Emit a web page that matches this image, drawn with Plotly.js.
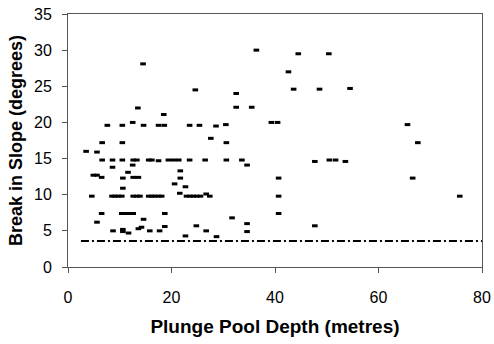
<!DOCTYPE html>
<html>
<head>
<meta charset="utf-8">
<script src="https://cdn.plot.ly/plotly-3.0.1.min.js"></script>
<style>html,body{margin:0;padding:0;background:#fff;}#chart{width:494px;height:344px;}</style>
</head>
<body>
<div id="chart"></div>
<script>
// Plunge pool depth (m) and break in slope (degrees)
var depth = [7.6,10.5,12.5,14.6,13.5,14.5,17.5,18.6,18.5,23.5,24.6,25.4,36.4,44.5,50.4,42.6,32.5,43.6,48.6,32.5,35.5,28.6,30.5,39.3,40.5,27.6,3.5,5.6,6.6,10.5,
  6.6,8.6,10.5,12.6,13.3,15.6,16.2,17.5,19.4,20.4,21.4,23.5,26.5,30.6,33.6,
  8.6,12.5,11.6,4.9,5.6,6.5,10.6,12.6,13.6,10.6,21.7,20.6,22.7,21.6,21.7,
  4.6,8.5,9.1,9.7,10.4,12.6,13.3,13.9,15.6,16.2,16.8,17.5,18.1,22.9,23.6,24.2,24.9,25.6,26.7,27.4,40.7,
  6.5,10.4,11.1,11.7,12.6,18.7,40.7,5.6,14.6,8.7,10.6,10.6,11.7,13.6,14.2,15.8,17.7,18.7,22.7,24.8,
  30.6,34.6,40.7,31.7,26.7,28.7,34.6,34.6,47.7,50.5,51.7,53.6,47.7,54.5,65.6,67.6,66.6,75.7];
var slope = [19.6,19.6,20.0,19.6,22.0,28.1,19.6,19.6,21.1,19.6,24.5,19.6,30.0,29.5,29.5,27.0,24.0,24.6,24.6,22.1,22.1,19.5,19.7,20.0,20.0,17.8,16.0,15.9,17.2,17.2,
  14.8,14.8,14.8,14.8,14.8,14.8,14.8,14.7,14.8,14.8,14.8,14.8,14.8,14.8,14.8,
  13.8,14.1,13.1,12.7,12.7,12.4,12.3,12.4,12.4,10.9,13.3,11.5,11.1,10.2,12.3,
  9.8,9.8,9.8,9.8,9.8,9.8,9.8,9.8,9.8,9.8,9.8,9.8,9.8,9.8,9.8,9.8,9.8,9.8,10.1,9.8,9.8,
  7.4,7.4,7.4,7.4,7.4,7.4,7.4,6.2,6.6,5.0,5.2,4.9,4.7,5.3,5.5,5.0,5.0,5.6,4.3,5.7,
  17.2,14.1,12.3,6.8,5.0,4.2,6.0,4.9,14.6,14.8,14.8,14.6,5.7,24.7,19.7,17.2,12.3,9.8];
// threshold line
var lineX = [2.5, 80];
var lineY = [3.6, 3.6];
var xTicks = [0, 20, 40, 60, 80];
var yTicks = [0, 5, 10, 15, 20, 25, 30, 35];

var traces = [
  {x: lineX, y: lineY, mode: 'lines', line: {color: '#000', width: 2, dash: '8px,3px,2px,3px'}, hoverinfo: 'skip'},
  {x: depth, y: slope, mode: 'markers', marker: {symbol: 'line-ew', size: 4, color: '#000', line: {color: '#000', width: 3}}}
];
var font = {family: '"Liberation Sans", Arial, sans-serif', color: '#000'};
var layout = {
  width: 494, height: 344,
  margin: {l: 68, r: 12, t: 14, b: 77},
  paper_bgcolor: '#fff', plot_bgcolor: '#fff',
  showlegend: false,
  font: font,
  xaxis: {
    range: [0, 80], tickvals: xTicks, ticktext: xTicks.map(String),
    showgrid: false, zeroline: false, showline: true, mirror: true, linecolor: '#555', linewidth: 1,
    ticks: 'outside', ticklen: 5, tickcolor: '#555', ticklabelstandoff: 11,
    tickfont: {family: font.family, size: 16, color: '#000'},
    title: {text: 'Plunge Pool Depth (metres)', font: {family: font.family, size: 19, color: '#000', weight: 'bold'}, standoff: 14}
  },
  yaxis: {
    range: [0, 35], tickvals: yTicks, ticktext: yTicks.map(String),
    showgrid: false, zeroline: false, showline: true, mirror: true, linecolor: '#555', linewidth: 1,
    ticks: 'outside', ticklen: 5, tickcolor: '#555', ticklabelstandoff: 7,
    tickfont: {family: font.family, size: 16, color: '#000'},
    title: {text: 'Break in Slope (degrees)', font: {family: font.family, size: 18, color: '#000', weight: 'bold'}, standoff: 6}
  }
};
Plotly.newPlot('chart', traces, layout, {displayModeBar: false, staticPlot: true});
</script>
</body>
</html>
